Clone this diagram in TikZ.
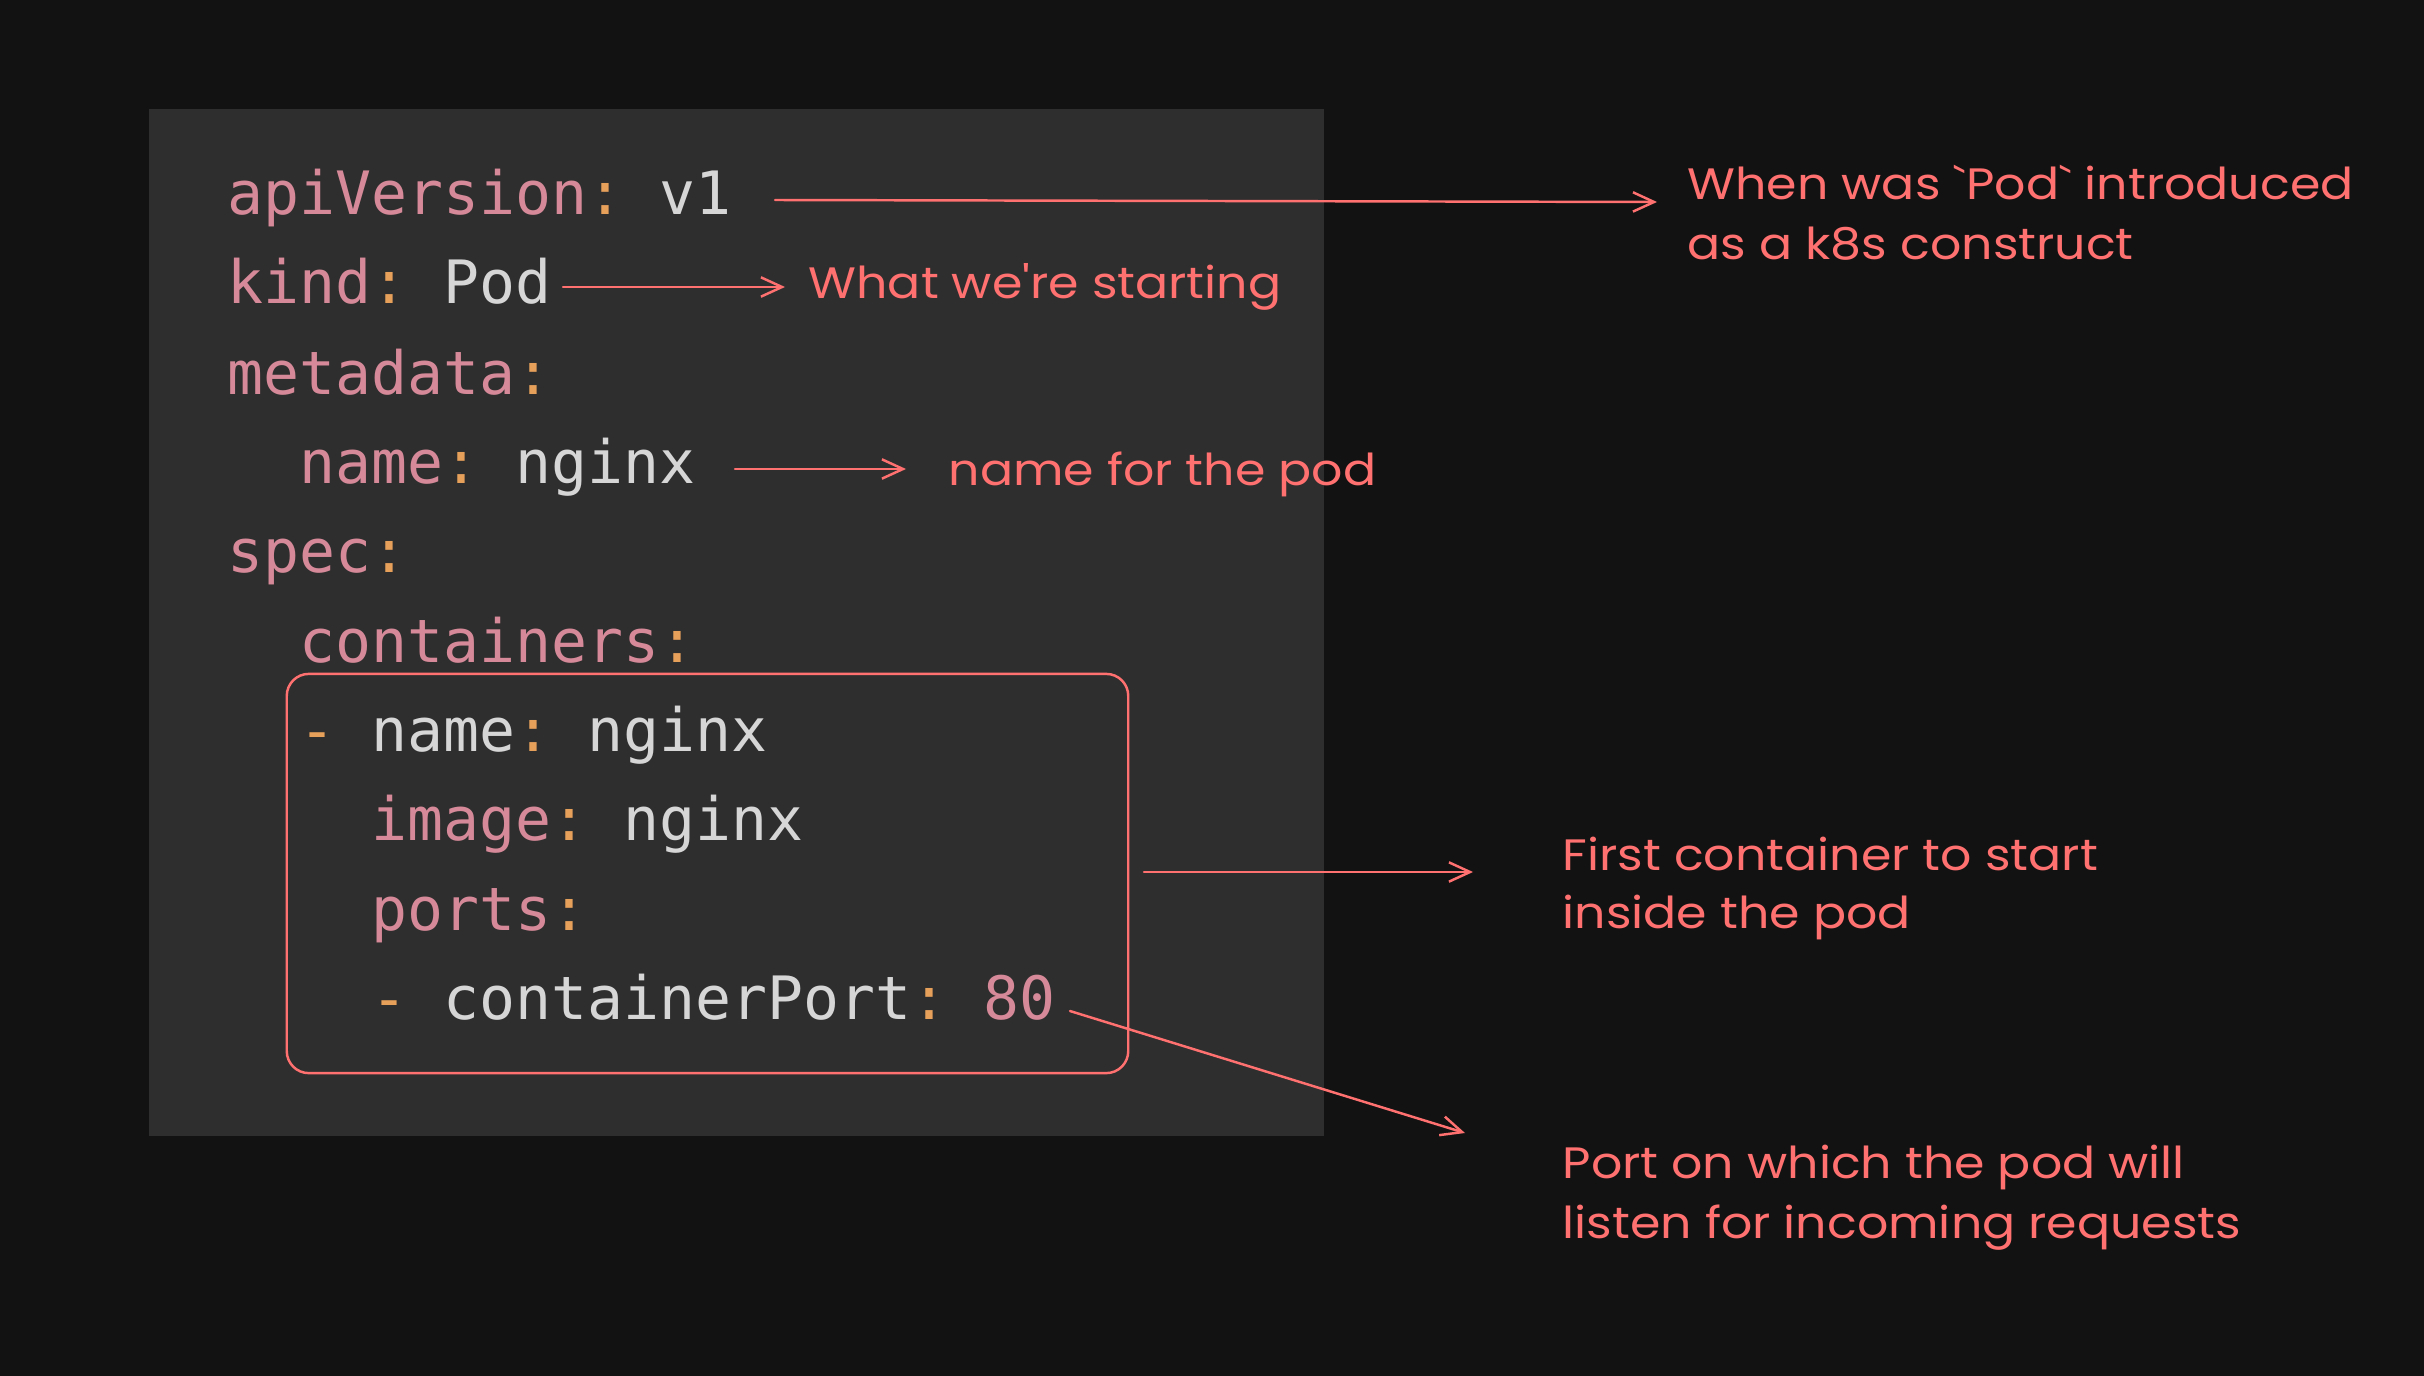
\documentclass[tikz,border=0pt]{standalone}
\usepackage{fontspec}
\usetikzlibrary{arrows.meta}
\newfontfamily\codefont{DejaVu Sans Mono}
\newfontfamily\handfont[FakeStretch=1.115]{Poppins}
\definecolor{bgc}{HTML}{121212}
\definecolor{panelc}{HTML}{2E2E2E}
\definecolor{keyc}{HTML}{D68A99}
\definecolor{valc}{HTML}{D6D6D6}
\definecolor{colc}{HTML}{E6A05A}
\definecolor{redc}{HTML}{FF7070}
\newcommand{\K}[1]{\textcolor{keyc}{#1}}
\newcommand{\V}[1]{\textcolor{valc}{#1}}
\newcommand{\C}[1]{\textcolor{colc}{#1}}
\begin{document}
\begin{tikzpicture}[x=0.01cm,y=-0.01cm,
  code/.style={anchor=base west, inner sep=0pt, font=\codefont\fontsize{17.0}{20}\selectfont\frenchspacing},
  note/.style={anchor=base west, inner sep=0pt, text=redc, font=\handfont\fontsize{12.5}{15}\selectfont},
  arr/.style={draw=redc, line width=0.7pt, line cap=round, -{Straight Barb[length=6pt,width=5.5pt,line width=0.7pt]}}]
\useasboundingbox (0,0) rectangle (2424,1376);
\fill[bgc] (0,0) rectangle (2424,1376);
\fill[panelc] (149,109) rectangle (1324,1136);
% code lines
\node[code] (l1) at (227,215) {\K{apiVersion}\C{:} \V{v1}};
\node[code] (l2) at (227,304) {\K{kind}\C{:} \V{Pod}};
\node[code] (l3) at (227,394) {\K{metadata}\C{:}};
\node[code] (l4) at (299,483) {\K{name}\C{:} \V{nginx}};
\node[code] (l5) at (227,572) {\K{spec}\C{:}};
\node[code] (l6) at (299,662) {\K{containers}\C{:}};
\node[code] (l7) at (299,751) {\C{-} \V{name}\C{:} \V{nginx}};
\node[code] (l8) at (371,840) {\K{image}\C{:} \V{nginx}};
\node[code] (l9) at (371,930) {\K{ports}\C{:}};
\node[code] (l10) at (371,1019) {\C{-} \V{containerPort}\C{:} \K{80}};
% container box
\node[draw=redc, line width=0.7pt, rounded corners=0.22cm, minimum width=8.41cm, minimum height=3.99cm, inner sep=0pt] (box) at (707.5,873.5) {};
% notes
\node[note] (n1a) at (1687,200) {When was `Pod` introduced};
\node[note] (n1b) at (1687,260) {as a k8s construct};
\node[note] (n2) at (808,298) {What we're starting};
\node[note] (n3) at (948,485) {name for the pod};
\node[note] (n4a) at (1562,870) {First container to start};
\node[note] (n4b) at (1562,928) {inside the pod};
\node[note] (n5a) at (1562,1178) {Port on which the pod will};
\node[note] (n5b) at (1562,1238) {listen for incoming requests};
% arrow end points
\coordinate (s1) at (775,200);  \coordinate (e1) at (1657,202);
\coordinate (s2) at (563,287);  \coordinate (e2) at (785,287);
\coordinate (s3) at (735,469);  \coordinate (e3) at (906,469);
\coordinate (s4) at (1144,872); \coordinate (e4) at (1473,872);
\coordinate (s5) at (1070,1011);\coordinate (e5) at (1465,1133);
\draw[arr] (s1) -- (e1);
\draw[arr] (s2) -- (e2);
\draw[arr] (s3) -- (e3);
\draw[arr] (s4) -- (e4);
\draw[arr] (s5) -- (e5);
\end{tikzpicture}
\end{document}
